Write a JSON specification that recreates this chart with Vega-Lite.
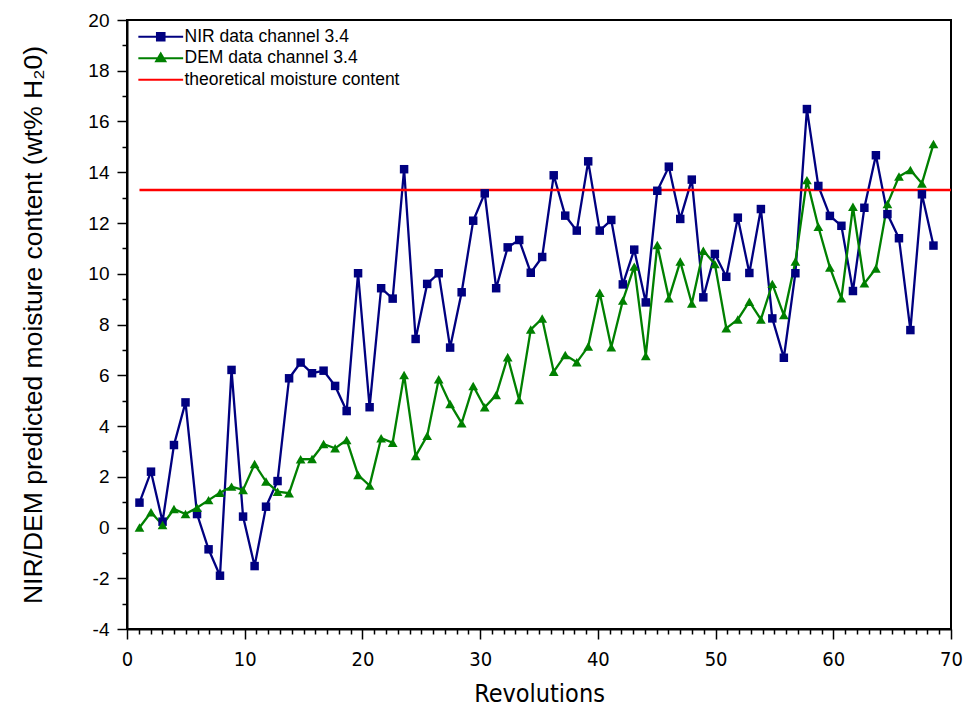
{
  "$schema": "https://vega.github.io/schema/vega-lite/v6.json",
  "width": 824,
  "height": 609,
  "autosize": {"type": "none"},
  "padding": {"left": 127, "top": 20, "right": 14, "bottom": 89},
  "background": "white",
  "config": {
    "view": {"stroke": "black", "strokeWidth": 2},
    "font": "Liberation Sans"
  },
  "data": {
    "values": [
      {"s": "NIR data channel 3.4", "x": 1.06, "y": 0.98},
      {"s": "NIR data channel 3.4", "x": 2.04, "y": 2.20},
      {"s": "NIR data channel 3.4", "x": 3.02, "y": 0.23},
      {"s": "NIR data channel 3.4", "x": 3.99, "y": 3.25},
      {"s": "NIR data channel 3.4", "x": 4.97, "y": 4.93},
      {"s": "NIR data channel 3.4", "x": 5.95, "y": 0.53},
      {"s": "NIR data channel 3.4", "x": 6.93, "y": -0.86},
      {"s": "NIR data channel 3.4", "x": 7.90, "y": -1.90},
      {"s": "NIR data channel 3.4", "x": 8.88, "y": 6.21},
      {"s": "NIR data channel 3.4", "x": 9.86, "y": 0.43},
      {"s": "NIR data channel 3.4", "x": 10.84, "y": -1.52},
      {"s": "NIR data channel 3.4", "x": 11.81, "y": 0.82},
      {"s": "NIR data channel 3.4", "x": 12.79, "y": 1.83},
      {"s": "NIR data channel 3.4", "x": 13.77, "y": 5.88},
      {"s": "NIR data channel 3.4", "x": 14.75, "y": 6.50},
      {"s": "NIR data channel 3.4", "x": 15.72, "y": 6.08},
      {"s": "NIR data channel 3.4", "x": 16.70, "y": 6.18},
      {"s": "NIR data channel 3.4", "x": 17.68, "y": 5.58},
      {"s": "NIR data channel 3.4", "x": 18.66, "y": 4.59},
      {"s": "NIR data channel 3.4", "x": 19.63, "y": 10.02},
      {"s": "NIR data channel 3.4", "x": 20.61, "y": 4.74},
      {"s": "NIR data channel 3.4", "x": 21.59, "y": 9.43},
      {"s": "NIR data channel 3.4", "x": 22.57, "y": 9.02},
      {"s": "NIR data channel 3.4", "x": 23.54, "y": 14.12},
      {"s": "NIR data channel 3.4", "x": 24.52, "y": 7.43},
      {"s": "NIR data channel 3.4", "x": 25.50, "y": 9.60},
      {"s": "NIR data channel 3.4", "x": 26.48, "y": 10.02},
      {"s": "NIR data channel 3.4", "x": 27.45, "y": 7.09},
      {"s": "NIR data channel 3.4", "x": 28.43, "y": 9.27},
      {"s": "NIR data channel 3.4", "x": 29.41, "y": 12.09},
      {"s": "NIR data channel 3.4", "x": 30.39, "y": 13.17},
      {"s": "NIR data channel 3.4", "x": 31.36, "y": 9.43},
      {"s": "NIR data channel 3.4", "x": 32.34, "y": 11.04},
      {"s": "NIR data channel 3.4", "x": 33.32, "y": 11.33},
      {"s": "NIR data channel 3.4", "x": 34.30, "y": 10.04},
      {"s": "NIR data channel 3.4", "x": 35.27, "y": 10.66},
      {"s": "NIR data channel 3.4", "x": 36.25, "y": 13.88},
      {"s": "NIR data channel 3.4", "x": 37.23, "y": 12.29},
      {"s": "NIR data channel 3.4", "x": 38.21, "y": 11.70},
      {"s": "NIR data channel 3.4", "x": 39.18, "y": 14.43},
      {"s": "NIR data channel 3.4", "x": 40.16, "y": 11.70},
      {"s": "NIR data channel 3.4", "x": 41.14, "y": 12.12},
      {"s": "NIR data channel 3.4", "x": 42.12, "y": 9.58},
      {"s": "NIR data channel 3.4", "x": 43.09, "y": 10.95},
      {"s": "NIR data channel 3.4", "x": 44.07, "y": 8.87},
      {"s": "NIR data channel 3.4", "x": 45.05, "y": 13.27},
      {"s": "NIR data channel 3.4", "x": 46.03, "y": 14.22},
      {"s": "NIR data channel 3.4", "x": 47.00, "y": 12.16},
      {"s": "NIR data channel 3.4", "x": 47.98, "y": 13.71},
      {"s": "NIR data channel 3.4", "x": 48.96, "y": 9.07},
      {"s": "NIR data channel 3.4", "x": 49.94, "y": 10.78},
      {"s": "NIR data channel 3.4", "x": 50.91, "y": 9.88},
      {"s": "NIR data channel 3.4", "x": 51.89, "y": 12.21},
      {"s": "NIR data channel 3.4", "x": 52.87, "y": 10.03},
      {"s": "NIR data channel 3.4", "x": 53.85, "y": 12.55},
      {"s": "NIR data channel 3.4", "x": 54.82, "y": 8.24},
      {"s": "NIR data channel 3.4", "x": 55.80, "y": 6.69},
      {"s": "NIR data channel 3.4", "x": 56.78, "y": 10.02},
      {"s": "NIR data channel 3.4", "x": 57.76, "y": 16.49},
      {"s": "NIR data channel 3.4", "x": 58.73, "y": 13.46},
      {"s": "NIR data channel 3.4", "x": 59.71, "y": 12.28},
      {"s": "NIR data channel 3.4", "x": 60.69, "y": 11.89},
      {"s": "NIR data channel 3.4", "x": 61.67, "y": 9.32},
      {"s": "NIR data channel 3.4", "x": 62.64, "y": 12.60},
      {"s": "NIR data channel 3.4", "x": 63.62, "y": 14.67},
      {"s": "NIR data channel 3.4", "x": 64.60, "y": 12.35},
      {"s": "NIR data channel 3.4", "x": 65.58, "y": 11.40},
      {"s": "NIR data channel 3.4", "x": 66.55, "y": 7.78},
      {"s": "NIR data channel 3.4", "x": 67.53, "y": 13.13},
      {"s": "NIR data channel 3.4", "x": 68.51, "y": 11.11},
      {"s": "DEM data channel 3.4", "x": 1.06, "y": 0.00},
      {"s": "DEM data channel 3.4", "x": 2.04, "y": 0.60},
      {"s": "DEM data channel 3.4", "x": 3.02, "y": 0.10},
      {"s": "DEM data channel 3.4", "x": 3.99, "y": 0.73},
      {"s": "DEM data channel 3.4", "x": 4.97, "y": 0.53},
      {"s": "DEM data channel 3.4", "x": 5.95, "y": 0.78},
      {"s": "DEM data channel 3.4", "x": 6.93, "y": 1.08},
      {"s": "DEM data channel 3.4", "x": 7.90, "y": 1.37},
      {"s": "DEM data channel 3.4", "x": 8.88, "y": 1.61},
      {"s": "DEM data channel 3.4", "x": 9.86, "y": 1.48},
      {"s": "DEM data channel 3.4", "x": 10.84, "y": 2.50},
      {"s": "DEM data channel 3.4", "x": 11.81, "y": 1.81},
      {"s": "DEM data channel 3.4", "x": 12.79, "y": 1.41},
      {"s": "DEM data channel 3.4", "x": 13.77, "y": 1.35},
      {"s": "DEM data channel 3.4", "x": 14.75, "y": 2.69},
      {"s": "DEM data channel 3.4", "x": 15.72, "y": 2.70},
      {"s": "DEM data channel 3.4", "x": 16.70, "y": 3.29},
      {"s": "DEM data channel 3.4", "x": 17.68, "y": 3.12},
      {"s": "DEM data channel 3.4", "x": 18.66, "y": 3.45},
      {"s": "DEM data channel 3.4", "x": 19.63, "y": 2.07},
      {"s": "DEM data channel 3.4", "x": 20.61, "y": 1.65},
      {"s": "DEM data channel 3.4", "x": 21.59, "y": 3.52},
      {"s": "DEM data channel 3.4", "x": 22.57, "y": 3.34},
      {"s": "DEM data channel 3.4", "x": 23.54, "y": 6.01},
      {"s": "DEM data channel 3.4", "x": 24.52, "y": 2.82},
      {"s": "DEM data channel 3.4", "x": 25.50, "y": 3.61},
      {"s": "DEM data channel 3.4", "x": 26.48, "y": 5.84},
      {"s": "DEM data channel 3.4", "x": 27.45, "y": 4.87},
      {"s": "DEM data channel 3.4", "x": 28.43, "y": 4.11},
      {"s": "DEM data channel 3.4", "x": 29.41, "y": 5.58},
      {"s": "DEM data channel 3.4", "x": 30.39, "y": 4.74},
      {"s": "DEM data channel 3.4", "x": 31.36, "y": 5.22},
      {"s": "DEM data channel 3.4", "x": 32.34, "y": 6.71},
      {"s": "DEM data channel 3.4", "x": 33.32, "y": 5.02},
      {"s": "DEM data channel 3.4", "x": 34.30, "y": 7.80},
      {"s": "DEM data channel 3.4", "x": 35.27, "y": 8.24},
      {"s": "DEM data channel 3.4", "x": 36.25, "y": 6.14},
      {"s": "DEM data channel 3.4", "x": 37.23, "y": 6.80},
      {"s": "DEM data channel 3.4", "x": 38.21, "y": 6.51},
      {"s": "DEM data channel 3.4", "x": 39.18, "y": 7.13},
      {"s": "DEM data channel 3.4", "x": 40.16, "y": 9.25},
      {"s": "DEM data channel 3.4", "x": 41.14, "y": 7.10},
      {"s": "DEM data channel 3.4", "x": 42.12, "y": 8.94},
      {"s": "DEM data channel 3.4", "x": 43.09, "y": 10.28},
      {"s": "DEM data channel 3.4", "x": 44.07, "y": 6.76},
      {"s": "DEM data channel 3.4", "x": 45.05, "y": 11.13},
      {"s": "DEM data channel 3.4", "x": 46.03, "y": 9.03},
      {"s": "DEM data channel 3.4", "x": 47.00, "y": 10.48},
      {"s": "DEM data channel 3.4", "x": 47.98, "y": 8.83},
      {"s": "DEM data channel 3.4", "x": 48.96, "y": 10.91},
      {"s": "DEM data channel 3.4", "x": 49.94, "y": 10.38},
      {"s": "DEM data channel 3.4", "x": 50.91, "y": 7.85},
      {"s": "DEM data channel 3.4", "x": 51.89, "y": 8.20},
      {"s": "DEM data channel 3.4", "x": 52.87, "y": 8.90},
      {"s": "DEM data channel 3.4", "x": 53.85, "y": 8.20},
      {"s": "DEM data channel 3.4", "x": 54.82, "y": 9.60},
      {"s": "DEM data channel 3.4", "x": 55.80, "y": 8.37},
      {"s": "DEM data channel 3.4", "x": 56.78, "y": 10.48},
      {"s": "DEM data channel 3.4", "x": 57.76, "y": 13.69},
      {"s": "DEM data channel 3.4", "x": 58.73, "y": 11.85},
      {"s": "DEM data channel 3.4", "x": 59.71, "y": 10.25},
      {"s": "DEM data channel 3.4", "x": 60.69, "y": 9.03},
      {"s": "DEM data channel 3.4", "x": 61.67, "y": 12.64},
      {"s": "DEM data channel 3.4", "x": 62.64, "y": 9.62},
      {"s": "DEM data channel 3.4", "x": 63.62, "y": 10.21},
      {"s": "DEM data channel 3.4", "x": 64.60, "y": 12.75},
      {"s": "DEM data channel 3.4", "x": 65.58, "y": 13.83},
      {"s": "DEM data channel 3.4", "x": 66.55, "y": 14.09},
      {"s": "DEM data channel 3.4", "x": 67.53, "y": 13.56},
      {"s": "DEM data channel 3.4", "x": 68.51, "y": 15.11},
      {"s": "theoretical moisture content", "x": 1.06, "y": 13.3},
      {"s": "theoretical moisture content", "x": 70, "y": 13.3}
    ]
  },
  "encoding": {
    "x": {
      "field": "x", "type": "quantitative",
      "scale": {"domain": [0, 70], "nice": false},
      "axis": {
        "title": "Revolutions",
        "values": [0,1,2,3,4,5,6,7,8,9,10,11,12,13,14,15,16,17,18,19,20,21,22,23,24,25,26,27,28,29,30,31,32,33,34,35,36,37,38,39,40,41,42,43,44,45,46,47,48,49,50,51,52,53,54,55,56,57,58,59,60,61,62,63,64,65,66,67,68,69,70],
        "labelExpr": "datum.value % 10 === 0 ? '' + datum.value : ''",
        "labelOverlap": false,
        "labelFlush": false,
        "labelFont": "DejaVu Sans Condensed, Liberation Sans",
        "labelFontSize": 20,
        "labelColor": "black",
        "labelPadding": 10,
        "tickSize": {"condition": {"test": "datum.value % 10 === 0", "value": 10}, "value": 5},
        "tickColor": "black",
        "tickWidth": 1.5,
        "domainColor": "black",
        "domainWidth": 2,
        "grid": false,
        "titleFont": "DejaVu Sans Condensed, Liberation Sans",
        "titleFontSize": 25,
        "titleFontWeight": "normal",
        "titleColor": "black",
        "titlePadding": 12
      }
    },
    "y": {
      "field": "y", "type": "quantitative",
      "scale": {"domain": [-4, 20], "nice": false},
      "axis": {
        "title": "NIR/DEM predicted moisture content (wt% H₂0)",
        "values": [-4,-3,-2,-1,0,1,2,3,4,5,6,7,8,9,10,11,12,13,14,15,16,17,18,19,20],
        "labelExpr": "datum.value % 2 === 0 ? '' + datum.value : ''",
        "labelOverlap": false,
        "labelFont": "Liberation Sans",
        "labelFontSize": 19,
        "labelColor": "black",
        "labelPadding": 8,
        "tickSize": {"condition": {"test": "datum.value % 2 === 0", "value": 10}, "value": 5},
        "tickColor": "black",
        "tickWidth": 1.5,
        "domainColor": "black",
        "domainWidth": 2,
        "grid": false,
        "titleFont": "Liberation Sans",
        "titleFontSize": 26.5,
        "titleFontWeight": "normal",
        "titleColor": "black",
        "titlePadding": 40
      }
    },
    "color": {
      "field": "s", "type": "nominal",
      "scale": {
        "domain": ["NIR data channel 3.4", "DEM data channel 3.4", "theoretical moisture content"],
        "range": ["#000080", "#008000", "#ff0000"]
      },
      "legend": {
        "title": null,
        "orient": "none",
        "legendX": 8,
        "legendY": 8,
        "padding": 0,
        "labelFont": "Liberation Sans",
        "labelFontSize": 17.5,
        "labelColor": "black",
        "labelLimit": 400,
        "symbolSize": 64,
        "symbolStrokeWidth": 2,
        "symbolOffset": 17,
        "labelOffset": 15,
        "rowPadding": 2.5,
        "encode": {
          "symbols": {
            "update": {
              "shape": {"signal": "datum.value === 'NIR data channel 3.4' ? 'M-5.6,0H5.6M-0.95,-0.95H0.95V0.95H-0.95Z' : (datum.value === 'DEM data channel 3.4' ? 'M-5.6,0H5.6M0,-1.2L1.15,0.75H-1.15Z' : 'M-5.6,0H5.6')"},
              "fill": {"signal": "scale('color', datum.value)"},
              "stroke": {"signal": "scale('color', datum.value)"},
              "strokeWidth": {"value": 2},
              "opacity": {"value": 1},
              "fillOpacity": {"value": 1}
            }
          }
        }
      }
    }
  },
  "layer": [
    {
      "mark": {"type": "line", "strokeWidth": 2.3}
    },
    {
      "transform": [{"filter": "datum.s !== 'theoretical moisture content'"}],
      "mark": {"type": "point", "filled": true, "opacity": 1},
      "encoding": {
        "shape": {
          "field": "s", "type": "nominal",
          "scale": {"domain": ["NIR data channel 3.4", "DEM data channel 3.4"], "range": ["square", "triangle-up"]},
          "legend": null
        },
        "size": {
          "field": "s", "type": "nominal",
          "scale": {"domain": ["NIR data channel 3.4", "DEM data channel 3.4"], "range": [72, 95]},
          "legend": null
        }
      }
    }
  ]
}
